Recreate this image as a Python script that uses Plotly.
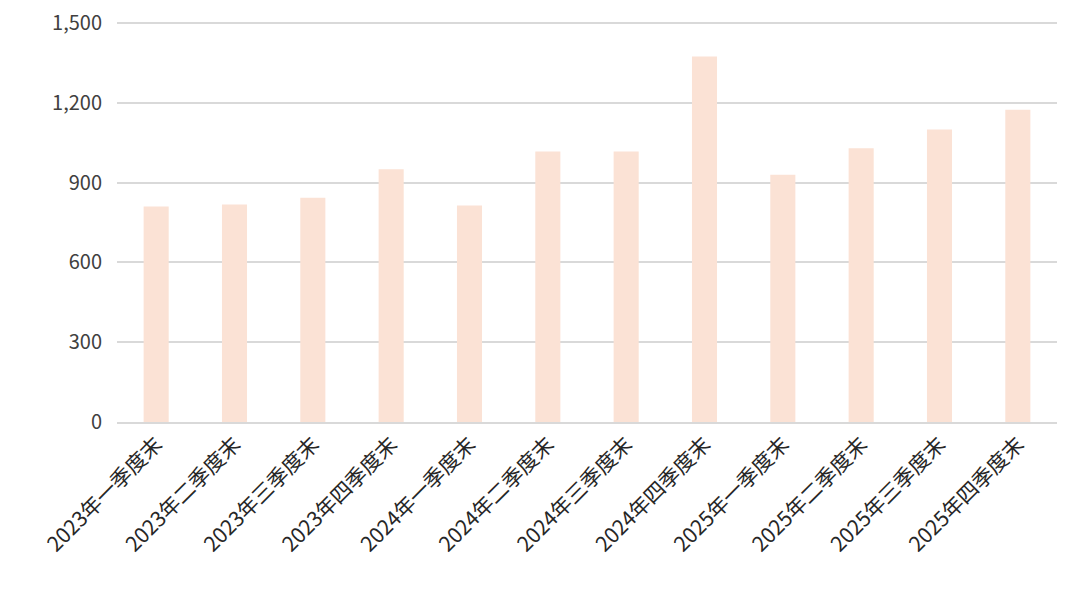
import plotly.graph_objects as go

categories = ["2023年一季度末", "2023年二季度末", "2023年三季度末", "2023年四季度末",
              "2024年一季度末", "2024年二季度末", "2024年三季度末", "2024年四季度末",
              "2025年一季度末", "2025年二季度末", "2025年三季度末", "2025年四季度末"]
values = [810, 818, 843, 950, 814, 1017, 1017, 1374, 930, 1029, 1100, 1174]
tick_vals = [0, 300, 600, 900, 1200, 1500]
tick_text = ["0", "300", "600", "900", "1,200", "1,500"]

fig = go.Figure(go.Bar(x=categories, y=values, marker=dict(color="#FBE2D5", line=dict(width=0)),
                       hoverinfo="x+y"))

fig.update_layout(
    width=1080, height=599,
    margin=dict(l=109, r=31, t=14, b=185, autoexpand=False),
    paper_bgcolor="white", plot_bgcolor="white",
    bargap=0.68,
    showlegend=False,
    font=dict(family="Noto Sans CJK SC, sans-serif", size=20, color="#404040"),
)
fig.update_xaxes(tickangle=-45, showgrid=False, showline=True, linecolor="#d9d9d9", linewidth=1.5,
                 ticks="", tickfont=dict(size=21, color="#262626"), ticklabeloverflow="allow")
fig.update_yaxes(range=[0, 1504], tickvals=tick_vals, ticktext=tick_text, showgrid=True,
                 gridcolor="#d9d9d9", gridwidth=1.5, zeroline=False, showline=False, ticks="",
                 ticklabelstandoff=14, ticklabeloverflow="allow",
                 tickfont=dict(size=20, color="#404040"))

fig.write_html("out.html")
